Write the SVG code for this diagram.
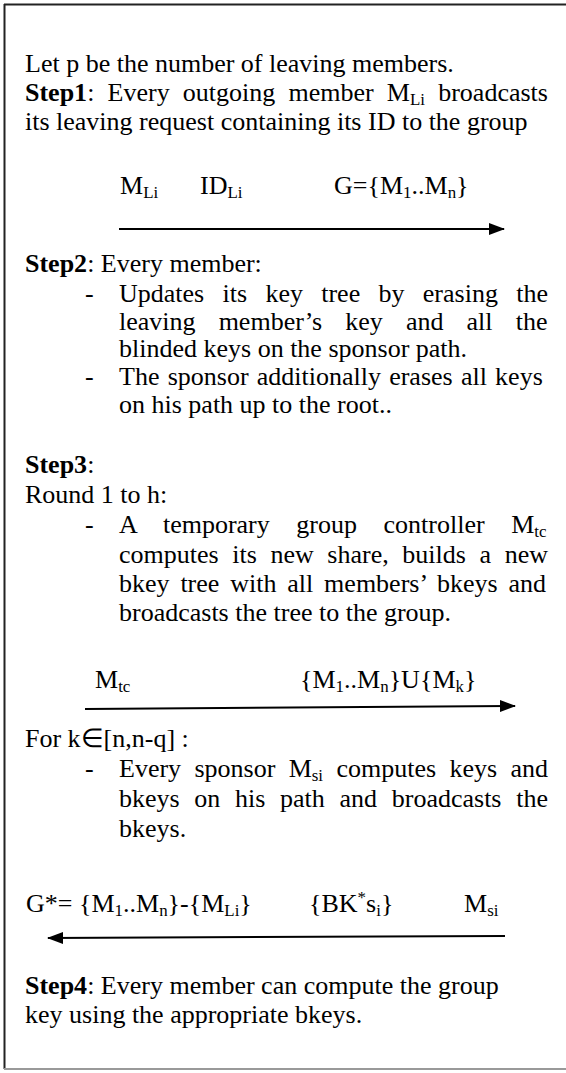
<svg xmlns="http://www.w3.org/2000/svg" width="566" height="1073" viewBox="0 0 566 1073">
<style>
text{font-family:"Liberation Serif","Times New Roman",serif;font-size:26px;fill:#000}
.b{font-weight:bold}
.s{font-size:16.9px}
.conn line{stroke:#000;stroke-width:2}
</style>
<defs>
<marker id="ah" markerUnits="userSpaceOnUse" markerWidth="16" markerHeight="14" refX="15" refY="7" orient="auto"><path d="M0,1 L16,7 L0,13 z" fill="#000"/></marker>
</defs>
<rect width="566" height="1073" fill="#fff"/>
<g id="frame">
<line x1="4.5" y1="4" x2="4.5" y2="1069" stroke="#222" stroke-width="2"/>
<line x1="4" y1="4.5" x2="566" y2="4.5" stroke="#222" stroke-width="2"/>
<line x1="4" y1="1069" x2="566" y2="1069" stroke="#999" stroke-width="2"/>
</g>
<g id="step1">
<text x="25" y="72">Let p be the number of leaving members.</text>
<text x="25" y="101" style="word-spacing:6.7px"><tspan class="b">Step1</tspan>: Every outgoing member M<tspan class="s" dy="3.5">Li</tspan><tspan dy="-3.5"> broadcasts</tspan></text>
<text x="25" y="130">its leaving request containing its ID to the group</text>
</g>
<g id="msg1">
<text x="120" y="194">M<tspan class="s" dy="4">Li</tspan></text>
<text x="200" y="194">ID<tspan class="s" dy="4">Li</tspan></text>
<text x="334" y="194">G={M<tspan class="s" dy="4">1</tspan><tspan dy="-4">..M</tspan><tspan class="s" dy="4">n</tspan><tspan dy="-4">}</tspan></text>
</g>
<g id="step2">
<text x="25" y="272"><tspan class="b">Step2</tspan>: Every member:</text>
<text x="85" y="302">-</text>
<text x="119" y="302" style="word-spacing:11.81px">Updates its key tree by erasing the</text>
<text x="119" y="330" style="word-spacing:16.62px">leaving member’s key and all the</text>
<text x="119" y="357">blinded keys on the sponsor path.</text>
<text x="85" y="385">-</text>
<text x="119" y="385" style="word-spacing:1.72px">The sponsor additionally erases all keys</text>
<text x="119" y="413">on his path up to the root..</text>
</g>
<g id="step3">
<text x="25" y="473"><tspan class="b">Step3</tspan>:</text>
<text x="25" y="503">Round 1 to h:</text>
<text x="85" y="533">-</text>
<text x="119" y="533" style="word-spacing:20.08px">A temporary group controller M<tspan class="s" dy="3.5">tc</tspan></text>
<text x="119" y="563" style="word-spacing:7.11px">computes its new share, builds a new</text>
<text x="119" y="592" style="word-spacing:4.35px">bkey tree with all members’ bkeys and</text>
<text x="119" y="621">broadcasts the tree to the group.</text>
</g>
<g id="msg2">
<text x="95" y="688">M<tspan class="s" dy="4">tc</tspan></text>
<text x="300" y="688">{M<tspan class="s" dy="4">1</tspan><tspan dy="-4">..M</tspan><tspan class="s" dy="4">n</tspan><tspan dy="-4">}U{M</tspan><tspan class="s" dy="4">k</tspan><tspan dy="-4">}</tspan></text>
</g>
<g id="loop">
<text x="25" y="747">For k∈[n,n-q] :</text>
<text x="85" y="777">-</text>
<text x="119" y="777" style="word-spacing:6.85px">Every sponsor M<tspan class="s" dy="3.5">si</tspan><tspan dy="-3.5"> computes keys and</tspan></text>
<text x="119" y="807" style="word-spacing:8.19px">bkeys on his path and broadcasts the</text>
<text x="119" y="837">bkeys.</text>
</g>
<g id="msg3">
<text x="26" y="912">G*= {M<tspan class="s" dy="4">1</tspan><tspan dy="-4">..M</tspan><tspan class="s" dy="4">n</tspan><tspan dy="-4">}-{M</tspan><tspan class="s" dy="4">Li</tspan><tspan dy="-4">}</tspan></text>
<text x="309" y="912">{BK<tspan class="s" dy="-9">*</tspan><tspan dy="9">s</tspan><tspan class="s" dy="4">i</tspan><tspan dy="-4">}</tspan></text>
<text x="464" y="912">M<tspan class="s" dy="4">si</tspan></text>
</g>
<g id="step4">
<text x="25" y="994"><tspan class="b">Step4</tspan>: Every member can compute the group</text>
<text x="25" y="1023">key using the appropriate bkeys.</text>
</g>
<g id="connectors" class="conn">
<line x1="119" y1="229" x2="504" y2="229" marker-end="url(#ah)"/>
<line x1="85" y1="709" x2="515" y2="706" marker-end="url(#ah)"/>
<line x1="505" y1="936" x2="48" y2="938" marker-end="url(#ah)"/>
</g>
</svg>
